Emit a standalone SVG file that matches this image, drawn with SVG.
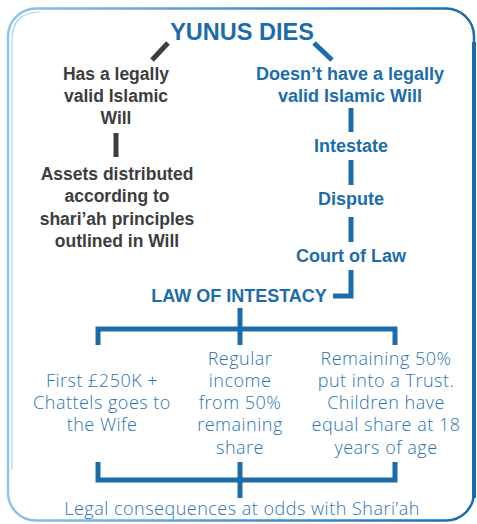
<svg xmlns="http://www.w3.org/2000/svg" width="477" height="524" viewBox="0 0 477 524">
<defs>
<linearGradient id="bg" x1="0" y1="0" x2="1" y2="0">
<stop offset="0" stop-color="#8ec5ec"/>
<stop offset="0.5" stop-color="#4a92cf"/>
<stop offset="1" stop-color="#1b6bae"/>
</linearGradient>
<style>
.b{font-family:"Liberation Sans",Arial,sans-serif;font-weight:bold;text-anchor:middle}
.dk{fill:#3d3d3d;font-size:17.5px}
.bl{fill:#1c6cab;font-size:18px}
.lt{font-family:"Open Sans","Liberation Sans",sans-serif;font-weight:300;fill:#2a74b5;font-size:18px;letter-spacing:0.5px;text-anchor:middle}
.cb{stroke:#1c6cab;stroke-width:5;fill:none}
.cd{stroke:#3d3d3d;stroke-width:5;fill:none}
</style>
</defs>
<rect width="477" height="524" fill="#ffffff"/>
<g id="border" fill="none">
<rect x="8" y="8.5" width="466" height="512" rx="28" stroke="url(#bg)" stroke-width="2.5"/>
<path d="M12 470 V40 Q12 12 40 12" stroke="#a9d3f2" stroke-width="1.2"/>
<path d="M474 42 V498" stroke="#1b6bae" stroke-width="4"/>
</g>
<g id="connectors">
<line class="cd" x1="152" y1="60" x2="168" y2="43"/>
<line class="cb" x1="314" y1="43" x2="332" y2="60"/>
<line class="cd" x1="116" y1="133" x2="116" y2="157"/>
<line class="cb" x1="351" y1="108" x2="351" y2="132"/>
<line class="cb" x1="351" y1="160" x2="351" y2="185"/>
<line class="cb" x1="351" y1="217" x2="351" y2="242"/>
<polyline class="cb" points="351,270 351,296 333,296"/>
<line class="cb" x1="240" y1="308" x2="240" y2="329"/>
<polyline class="cb" points="98,345 98,329 395,329 395,345"/>
<line class="cb" x1="240" y1="329" x2="240" y2="345"/>
<polyline class="cb" points="98,462 98,480 395,480 395,462"/>
<line class="cb" x1="240" y1="462" x2="240" y2="498"/>
</g>
<g id="yunus-dies"><text class="b" x="242" y="40" font-size="23.5" fill="#1c6cab">YUNUS DIES</text></g>
<g id="has-will"><text class="b dk" x="116" y="80">Has a legally</text><text class="b dk" x="116" y="102">valid Islamic</text><text class="b dk" x="116" y="124">Will</text></g>
<g id="no-will"><text class="b bl" x="350" y="80">Doesn’t have a legally</text><text class="b bl" x="350" y="102">valid Islamic Will</text></g>
<g id="assets"><text class="b dk" x="117" y="180">Assets distributed</text><text class="b dk" x="117" y="202">according to</text><text class="b dk" x="117" y="225">shari’ah principles</text><text class="b dk" x="117" y="247">outlined in Will</text></g>
<g id="intestate"><text class="b bl" x="351" y="152">Intestate</text></g>
<g id="dispute"><text class="b bl" x="351" y="205">Dispute</text></g>
<g id="court"><text class="b bl" x="351" y="262">Court of Law</text></g>
<g id="law"><text class="b bl" x="239" y="302" font-size="18.5">LAW OF INTESTACY</text></g>
<g id="wife"><text class="lt" x="102" y="387">First £250K +</text><text class="lt" x="102" y="409">Chattels goes to</text><text class="lt" x="102" y="431">the Wife</text></g>
<g id="income"><text class="lt" x="240" y="365">Regular</text><text class="lt" x="240" y="387">income</text><text class="lt" x="240" y="409">from 50%</text><text class="lt" x="240" y="431">remaining</text><text class="lt" x="240" y="454">share</text></g>
<g id="trust"><text class="lt" x="386" y="365">Remaining 50%</text><text class="lt" x="386" y="387">put into a Trust.</text><text class="lt" x="386" y="409">Children have</text><text class="lt" x="386" y="431">equal share at 18</text><text class="lt" x="386" y="454">years of age</text></g>
<g id="consequences"><text class="lt" x="242" y="515">Legal consequences at odds with Shari’ah</text></g>
</svg>
